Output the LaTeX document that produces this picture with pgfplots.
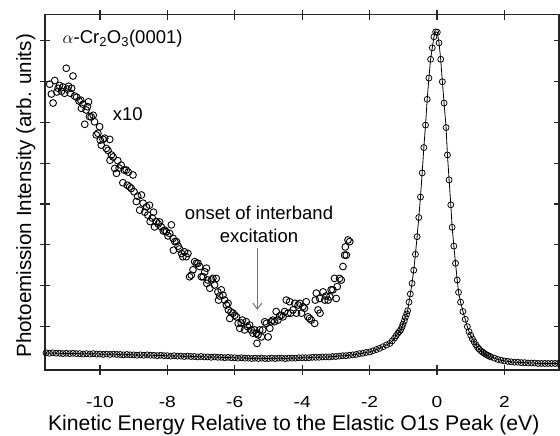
\documentclass[border=0pt]{standalone}
\usepackage{fontspec}
\setmainfont{Liberation Sans}
\newfontfamily\tickfont{Liberation Sans}[FakeStretch=1.2]
\usepackage{pgfplots}
\usepackage{pgfplotstable}
\pgfplotsset{compat=1.18}
\usetikzlibrary{arrows.meta}

\pgfplotstableread{
x y
-11.6 0.36
-11.5 0.35
-11.4 0.36
-11.3 0.35
-11.2 0.35
-11.1 0.34
-11.0 0.35
-10.9 0.34
-10.8 0.35
-10.7 0.34
-10.6 0.34
-10.5 0.33
-10.4 0.34
-10.3 0.33
-10.2 0.34
-10.1 0.33
-10.0 0.33
-9.9 0.32
-9.8 0.33
-9.7 0.32
-9.6 0.33
-9.5 0.32
-9.4 0.32
-9.3 0.31
-9.2 0.32
-9.1 0.31
-9.0 0.31
-8.9 0.30
-8.8 0.31
-8.7 0.30
-8.6 0.31
-8.5 0.30
-8.4 0.30
-8.3 0.29
-8.2 0.30
-8.1 0.29
-8.0 0.29
-7.9 0.28
-7.8 0.29
-7.7 0.28
-7.6 0.28
-7.5 0.27
-7.4 0.28
-7.3 0.27
-7.2 0.27
-7.1 0.26
-7.0 0.27
-6.9 0.26
-6.8 0.26
-6.7 0.25
-6.6 0.26
-6.5 0.25
-6.4 0.25
-6.3 0.24
-6.2 0.25
-6.1 0.24
-6.0 0.24
-5.9 0.23
-5.8 0.24
-5.7 0.23
-5.6 0.23
-5.5 0.22
-5.4 0.23
-5.3 0.22
-5.2 0.23
-5.1 0.22
-5.0 0.22
-4.9 0.23
-4.8 0.22
-4.7 0.23
-4.6 0.23
-4.5 0.22
-4.4 0.23
-4.3 0.23
-4.2 0.23
-4.1 0.24
-4.0 0.24
-3.9 0.24
-3.8 0.24
-3.7 0.25
-3.6 0.25
-3.5 0.25
-3.4 0.26
-3.3 0.26
-3.2 0.26
-3.1 0.27
-3.0 0.27
-2.9 0.28
-2.8 0.29
-2.7 0.29
-2.6 0.30
-2.5 0.31
-2.4 0.32
-2.3 0.34
-2.2 0.35
-2.1 0.37
-2.0 0.38
-1.9 0.41
-1.8 0.44
-1.7 0.47
-1.60 0.51
-1.50 0.55
-1.40 0.59
-1.33 0.65
-1.26 0.72
-1.21 0.78
-1.16 0.84
-1.12 0.88
-1.08 0.92
-1.04 0.99
-1.01 1.06
-0.97 1.14
-0.94 1.23
-0.90 1.31
-0.87 1.39
-0.83 1.60
-0.79 1.80
-0.74 2.06
-0.69 2.38
-0.64 2.77
-0.59 3.20
-0.54 3.67
-0.49 4.17
-0.44 4.76
-0.39 5.38
-0.34 5.93
-0.29 6.56
-0.24 7.08
-0.19 7.54
-0.14 7.82
-0.09 8.09
-0.04 8.21
0.01 8.20
0.06 7.94
0.11 7.54
0.16 6.99
0.21 6.47
0.27 5.87
0.31 5.20
0.36 4.59
0.41 3.98
0.45 3.43
0.50 2.97
0.55 2.55
0.60 2.14
0.64 1.84
0.70 1.60
0.77 1.37
0.84 1.18
0.90 1.00
0.95 0.88
1.00 0.79
1.05 0.70
1.10 0.63
1.15 0.56
1.20 0.50
1.25 0.45
1.30 0.41
1.35 0.38
1.40 0.35
1.45 0.32
1.50 0.30
1.55 0.28
1.60 0.26
1.70 0.23
1.80 0.20
1.90 0.18
2.00 0.16
2.10 0.15
2.20 0.14
2.30 0.13
2.40 0.13
2.50 0.12
2.60 0.12
2.70 0.11
2.80 0.11
2.90 0.11
3.00 0.10
3.10 0.10
3.20 0.10
3.30 0.10
3.40 0.10
3.50 0.10
3.60 0.10
}\mainpeak

\pgfplotstableread{
x y
-11.49 6.93
-11.44 6.69
-11.39 6.47
-11.34 7.02
-11.28 6.74
-11.24 6.83
-11.20 6.90
-11.14 6.76
-11.10 6.86
-11.05 6.71
-11.00 7.32
-10.97 6.81
-10.93 6.88
-10.88 6.71
-10.84 6.83
-10.80 7.13
-10.75 6.64
-10.69 6.61
-10.62 6.52
-10.57 6.54
-10.55 6.34
-10.50 6.44
-10.45 5.95
-10.41 6.30
-10.37 6.38
-10.34 6.50
-10.31 6.14
-10.26 6.13
-10.20 6.17
-10.16 6.01
-10.11 5.69
-10.06 5.73
-10.01 5.89
-9.99 5.56
-9.96 5.44
-9.91 5.58
-9.86 5.61
-9.81 5.36
-9.76 5.31
-9.71 5.58
-9.70 5.07
-9.66 5.20
-9.61 5.15
-9.56 4.87
-9.51 4.75
-9.47 5.06
-9.43 4.88
-9.37 4.95
-9.32 4.52
-9.28 4.83
-9.22 4.83
-9.19 4.46
-9.16 4.78
-9.12 4.42
-9.07 4.38
-9.02 4.71
-8.99 4.30
-8.92 4.06
-8.88 4.19
-8.82 3.85
-8.77 4.22
-8.72 4.02
-8.67 3.80
-8.62 3.93
-8.58 3.73
-8.53 3.97
-8.51 3.57
-8.45 3.66
-8.41 3.80
-8.38 3.44
-8.33 3.57
-8.27 3.51
-8.23 3.56
-8.18 3.44
-8.12 3.34
-8.08 3.36
-8.03 3.32
-7.98 3.22
-7.93 3.28
-7.88 3.49
-7.83 3.16
-7.82 2.87
-7.78 3.08
-7.73 3.08
-7.68 2.97
-7.64 2.90
-7.58 2.79
-7.54 2.71
-7.49 2.83
-7.44 2.71
-7.39 2.79
-7.34 2.22
-7.29 2.26
-7.24 2.39
-7.19 2.59
-7.14 2.55
-7.09 2.55
-7.04 2.47
-6.99 2.22
-6.94 2.22
-6.89 2.34
-6.84 2.43
-6.83 2.06
-6.80 2.14
-6.74 1.94
-6.69 2.14
-6.65 2.18
-6.60 2.02
-6.55 2.18
-6.50 1.85
-6.48 1.65
-6.45 1.75
-6.40 1.90
-6.35 1.77
-6.30 1.65
-6.25 1.53
-6.20 1.57
-6.19 1.41
-6.15 1.20
-6.11 1.36
-6.05 1.33
-6.00 1.28
-5.95 1.24
-5.90 1.08
-5.85 0.96
-5.81 1.09
-5.77 1.16
-5.71 0.92
-5.66 1.12
-5.62 1.00
-5.56 1.04
-5.51 0.92
-5.46 0.84
-5.41 0.92
-5.36 0.84
-5.34 0.59
-5.31 0.80
-5.26 0.92
-5.21 0.75
-5.17 0.92
-5.11 1.12
-5.06 1.08
-5.01 0.75
-4.96 0.96
-4.92 1.12
-4.87 1.16
-4.82 1.12
-4.77 1.37
-4.72 1.16
-4.67 1.26
-4.62 1.28
-4.57 1.24
-4.52 1.37
-4.47 1.65
-4.42 1.33
-4.37 1.61
-4.34 1.33
-4.27 1.41
-4.22 1.57
-4.17 1.33
-4.12 1.53
-4.07 1.57
-4.02 1.33
-3.98 1.49
-3.93 1.45
-3.88 1.61
-3.83 1.24
-3.78 1.20
-3.73 1.16
-3.63 1.08
-3.61 1.65
-3.58 1.82
-3.53 1.41
-3.48 1.69
-3.47 1.33
-3.38 1.85
-3.33 1.65
-3.29 1.75
-3.23 1.65
-3.18 1.73
-3.14 1.90
-3.09 1.90
-3.04 2.18
-2.99 1.69
-2.96 1.98
-2.89 2.18
-2.84 2.14
-2.79 2.47
-2.74 2.75
-2.72 2.95
-2.69 2.75
-2.64 3.12
-2.59 3.08
}\tenx

\begin{document}
\fontsize{18.5pt}{22pt}\selectfont
\begin{tikzpicture}
\begin{axis}[
  scale only axis, width=514pt, height=355.3pt,
  xmin=-11.63, xmax=3.62, ymin=-0.06, ymax=8.63,
  axis line style={line width=1.2pt, black!85},
  tick align=center, major tick length=10pt,
  tick style={line width=1.2pt, black!85},
  xtick pos=both, ytick pos=both,
  xtick={-10,-8,-6,-4,-2,0,2},
  xticklabels={-10,-8,-6,-4,-2,0,2},
  ytick={1,2,3,4,5,6,7,8}, yticklabels={},
  minor tick num=0,
  xticklabel style={font=\tickfont\fontsize{16pt}{19pt}\selectfont, yshift=-15pt},
  xlabel={Kinetic Energy Relative to the Elastic O1\textit{s} Peak (eV)},
  xlabel style={font=\fontsize{21.2pt}{25pt}\selectfont, at={(axis description cs:0.484,0)}, anchor=base, yshift=-61pt},
  ylabel={Photoemission Intensity (arb. units)},
  ylabel style={font=\fontsize{20.6pt}{25pt}\selectfont, at={(axis description cs:-0.0272,0.49)}, anchor=base, rotate=0},
  clip=true,
]
\addplot[black, line width=0.8pt, mark=o, mark size=3pt, mark options={line width=0.75pt}] table[x=x,y=y] {\mainpeak};
\addplot[only marks, black, mark=o, mark size=3.4pt, mark options={line width=0.9pt}] table[x=x,y=y] {\tenx};
\node[anchor=base west, inner sep=0pt, font=\fontsize{18.5pt}{22pt}\selectfont] at (axis cs:-11.11,7.935) {$\alpha$-Cr\textsubscript{2}O\textsubscript{3}(0001)};
\node[anchor=base west, inner sep=0pt, font=\fontsize{18.5pt}{22pt}\selectfont] at (axis cs:-9.62,6.05) {x10};
\node[anchor=base, inner sep=0pt, font=\fontsize{18.5pt}{22pt}\selectfont] at (axis cs:-5.28,3.61) {onset of interband};
\node[anchor=base, inner sep=0pt, font=\fontsize{18.5pt}{22pt}\selectfont] at (axis cs:-5.28,3.06) {excitation};
\draw[black!55, line width=1pt, -{Straight Barb[length=6pt,width=9pt]}] (axis cs:-5.33,2.92) -- (axis cs:-5.33,1.41);
\end{axis}
\pgfresetboundingbox
\path[use as bounding box] (-45pt,-66pt) rectangle (515pt,370pt);
\end{tikzpicture}
\end{document}
